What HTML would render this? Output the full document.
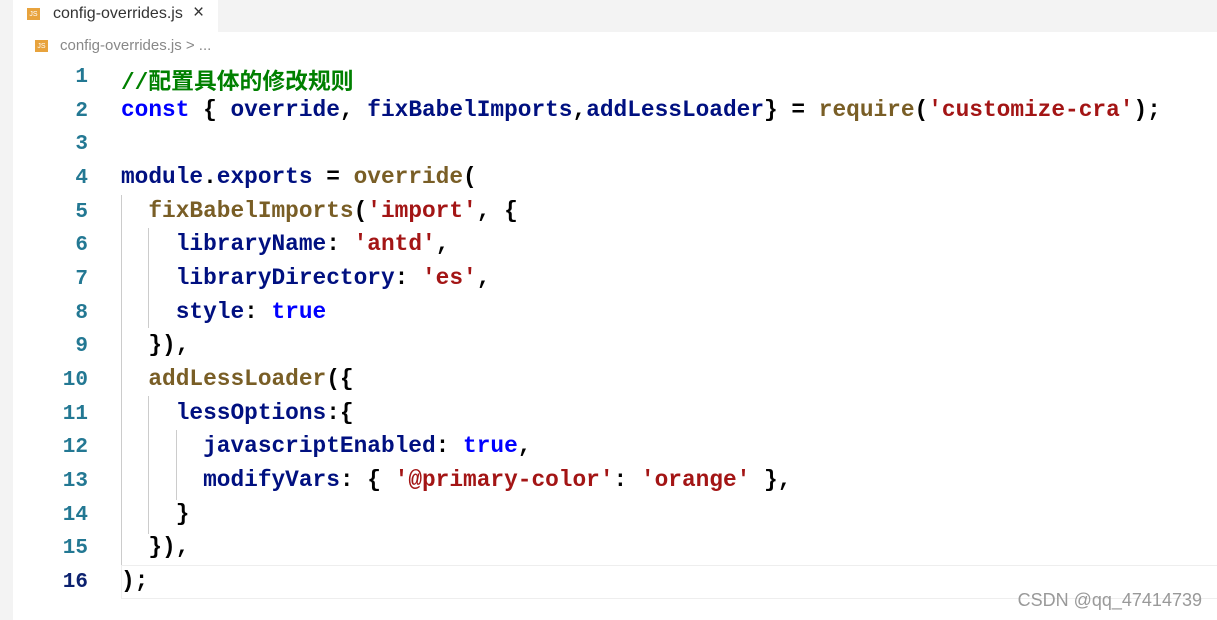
<!DOCTYPE html>
<html><head><meta charset="utf-8"><style>
body{margin:0;width:1217px;height:620px;background:#fff;position:relative;overflow:hidden;font-family:"Liberation Sans","Noto Sans CJK SC",sans-serif}
.left{position:absolute;left:0;top:0;width:13px;height:620px;background:#f3f3f3}
.tabbar{position:absolute;left:13px;top:0;right:0;height:32px;background:#f3f3f3}
.tab{position:absolute;left:13px;top:0;width:205px;height:32px;background:#fff;font-size:16px;color:#333}
.js{position:absolute;width:13px;height:12px;background:#e8a33d;color:#fff;font-size:7px;line-height:14px;text-align:center}
.crumb{position:absolute;left:60px;top:37px;font-size:15px;color:#888}
.ln{position:absolute;left:40px;width:48px;text-align:right;font-family:"Liberation Mono",monospace;font-size:21px;font-weight:bold;color:#237893}
.code{position:absolute;left:121px;font-family:"Liberation Mono","Noto Sans CJK SC",monospace;font-size:22.8px;font-weight:bold;white-space:pre;color:#000}
.k{color:#0000ff}.v{color:#001080}.f{color:#795e26}.s{color:#a31515}.c{color:#008000}
.g{position:absolute;width:1px;background:#ccc}
.hl{position:absolute;left:121px;right:0;top:565px;height:32px;border:1px solid #eee;border-right:none}
</style></head><body>
<div class="left"></div><div class="tabbar"></div>
<div class="tab"><div class="js" style="left:14px;top:8px">JS</div><span style="position:absolute;left:40px;top:5px">config-overrides.js</span><span style="position:absolute;left:180px;top:2px;font-size:19px">×</span></div>
<div class="js" style="left:35px;top:40px">JS</div>
<div class="crumb">config-overrides.js &gt; ...</div>
<div class="hl"></div>
<div class="g" style="left:121px;top:195px;height:370px"></div>
<div class="g" style="left:148px;top:228px;height:100px"></div>
<div class="g" style="left:148px;top:396px;height:138px"></div>
<div class="g" style="left:176px;top:430px;height:70px"></div>
<div id="lines"></div>
<script>
var L=[
'<span class="c">//配置具体的修改规则</span>',
'<span class="k">const</span> { <span class="v">override</span>, <span class="v">fixBabelImports</span>,<span class="v">addLessLoader</span>} = <span class="f">require</span>(<span class="s">\'customize-cra\'</span>);',
'',
'<span class="v">module</span>.<span class="v">exports</span> = <span class="f">override</span>(',
'  <span class="f">fixBabelImports</span>(<span class="s">\'import\'</span>, {',
'    <span class="v">libraryName</span>: <span class="s">\'antd\'</span>,',
'    <span class="v">libraryDirectory</span>: <span class="s">\'es\'</span>,',
'    <span class="v">style</span>: <span class="k">true</span>',
'  }),',
'  <span class="f">addLessLoader</span>({',
'    <span class="v">lessOptions</span>:{',
'      <span class="v">javascriptEnabled</span>: <span class="k">true</span>,',
'      <span class="v">modifyVars</span>: { <span class="s">\'@primary-color\'</span>: <span class="s">\'orange\'</span> },',
'    }',
'  }),',
');'];
var h='';
for(var i=0;i<16;i++){var y=63+i*33.67;
h+='<div class="ln" style="top:'+(y+3)+'px;'+(i==15?'color:#0b216f':'')+'">'+(i+1)+'</div>';
h+='<div class="code" style="top:'+y+'px">'+L[i]+'</div>';}
document.getElementById('lines').innerHTML=h;
</script>
<div style="position:absolute;right:15px;top:590px;font-size:18px;color:#999">CSDN @qq_47414739</div>
</body></html>
